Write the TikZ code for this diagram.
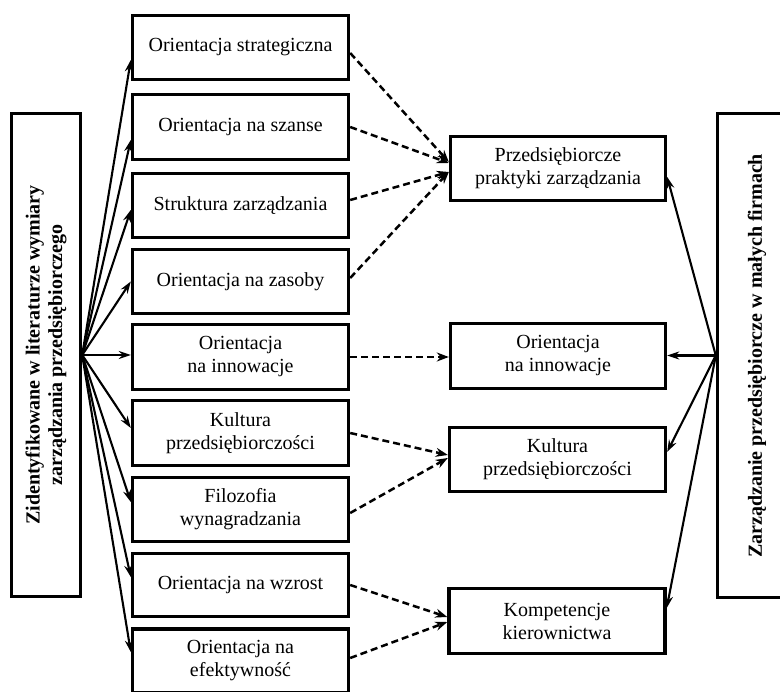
\documentclass[tikz,border=0pt]{standalone}
\usepackage{fontspec}
\setmainfont{Liberation Serif}
\usetikzlibrary{arrows.meta,calc}
\begin{document}
\begin{tikzpicture}[x=1pt,y=-1pt,
  box/.style={draw, line width=3.4pt, minimum width=216pt, minimum height=64pt, inner sep=0pt, align=center, font=\fontsize{20}{23}\selectfont},
  bigbox/.style={draw, line width=3.4pt, inner sep=0pt},
  vlabel/.style={rotate=90, align=center, font=\fontsize{20}{22.5}\selectfont\bfseries},
  solidarr/.style={line width=2.1pt, -{Stealth[length=12pt,width=8pt,inset=4pt]}},
  dasharr/.style={line width=2.5pt, dash pattern=on 7pt off 4pt, -{Stealth[length=12pt,width=9pt]}},
]
\useasboundingbox (0,0) rectangle (780,692);

% big side boxes
\node[bigbox, minimum width=69pt, minimum height=483pt] (L) at (46,355) {};
\node[vlabel] (Lt) at (L.center) {Zidentyfikowane w literaturze wymiary\\zarządzania przedsiębiorczego};
\node[bigbox, minimum width=79pt, minimum height=484pt] (R) at (757,355.5) {};
\node[vlabel] (Rt) at (757,356) {Zarządzanie przedsiębiorcze w małych firmach};

% middle column
\node[box] (b1) at (240.5,47.5) {Orientacja strategiczna};
\node[box, minimum height=65pt] (b2) at (240.5,127) {Orientacja na szanse};
\node[box] (b3) at (240.5,205.5) {Struktura zarządzania};
\node[box] (b4) at (240.5,281.5) {Orientacja na zasoby};
\node[box, minimum height=65pt] (b5) at (240.5,357) {Orientacja\\na innowacje};
\node[box, minimum height=65pt] (b6) at (240.5,433) {Kultura\\przedsiębiorczości};
\node[box] (b7) at (240.5,509.5) {Filozofia\\wynagradzania};
\node[box, minimum height=63pt] (b8) at (240.5,585) {Orientacja na wzrost};
\node[box] (b9) at (240.5,661) {Orientacja na\\efektywność};

% right column
\node[box, minimum width=215pt] (A) at (558,168.5) {Przedsiębiorcze\\praktyki zarządzania};
\node[box, minimum width=215pt, minimum height=65pt] (B) at (558,356) {Orientacja\\na innowacje};
\node[box, minimum width=216pt] (C) at (557.5,459.5) {Kultura\\przedsiębiorczości};
\node[box, minimum width=216pt, minimum height=65pt] (D) at (557,621) {Kompetencje\\kierownictwa};

% left fan
\draw[solidarr] (L.east) -- ([yshift=-12.5pt]b1.west);
\draw[solidarr] (L.east) -- ([yshift=-13pt]b2.west);
\draw[solidarr] (L.east) -- ([yshift=-4.5pt]b3.west);
\draw[solidarr] (L.east) -- (b4.west);
\draw[solidarr] (L.east) -- (L.east -| b5.west);
\draw[solidarr] (L.east) -- ([yshift=5pt]b6.west);
\draw[solidarr] (L.east) -- ([yshift=7.5pt]b7.west);
\draw[solidarr] (L.east) -- ([yshift=8pt]b8.west);
\draw[solidarr] (L.east) -- ([yshift=9pt]b9.west);

% dashed connections
\draw[dasharr] ([yshift=-5.5pt]b1.east) -- ([yshift=6.5pt]A.west);
\draw[dasharr] (b2.east) -- ([yshift=5.5pt]A.west);
\draw[dasharr] ([yshift=5.5pt]b3.east) -- ([yshift=-3.5pt]A.west);
\draw[dasharr] ([yshift=3.5pt]b4.east) -- ([yshift=-3.5pt]A.west);
\draw[dasharr] (b5.east) -- (b5.east -| B.west);
\draw[dasharr] (b6.east) -- ([yshift=4.5pt]C.west);
\draw[dasharr] ([yshift=-3.5pt]b7.east) -- ([yshift=1.5pt]C.west);
\draw[dasharr] (b8.east) -- ([yshift=4pt]D.west);
\draw[dasharr] ([yshift=3pt]b9.east) -- ([yshift=-1pt]D.west);

% right fan
\draw[solidarr] (R.west) -- ([yshift=-8.5pt]A.east);
\draw[solidarr] (R.west) -- (R.west -| B.east);
\draw[solidarr] (R.west) -- ([yshift=7.5pt]C.east);
\draw[solidarr] (R.west) -- ([yshift=13pt]D.east);
\end{tikzpicture}
\end{document}
